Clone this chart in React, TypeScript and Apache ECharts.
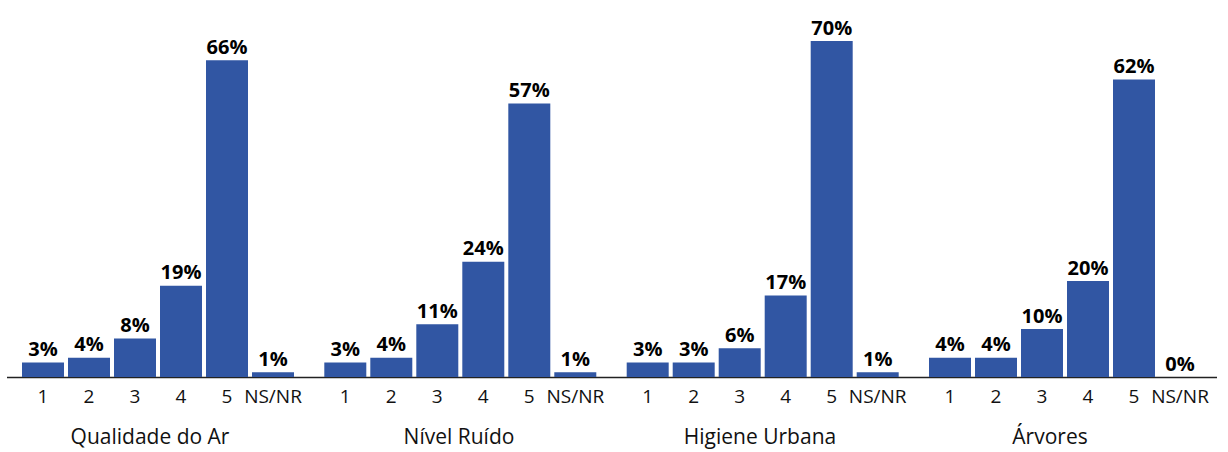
import React, { useEffect, useRef } from "react";
import * as echarts from "echarts";

const groups = ["Qualidade do Ar", "Nível Ruído", "Higiene Urbana", "Árvores"];
const categories = ["1", "2", "3", "4", "5", "NS/NR"];
const qualidadeAr = [3, 4, 8, 19, 66, 1];
const nivelRuido = [3, 4, 11, 24, 57, 1];
const higieneUrbana = [3, 3, 6, 17, 70, 1];
const arvores = [4, 4, 10, 20, 62, 0];
const seriesValues = [qualidadeAr, nivelRuido, higieneUrbana, arvores];
const groupLabelX = [150, 459, 760, 1050];

const FONT = "'Open Sans', 'Noto Sans', sans-serif";
const COLOR = "#3156a3";

export default function App() {
  const ref = useRef<HTMLDivElement>(null);
  useEffect(() => {
    const chart = echarts.init(ref.current!, null, { renderer: "svg" });
    const lefts = [20, 322.3, 624.7, 927];
    const grids = lefts.map((l) => ({ left: l, width: 276, top: 41, height: 336 }));
    const xAxes = lefts.map((_, i) => ({
      type: "category",
      gridIndex: i,
      data: categories,
      axisLine: { show: false },
      axisTick: { show: false },
      axisLabel: { color: "#111", fontFamily: FONT, fontSize: 19, margin: 9, interval: 0 },
    }));
    const yAxes = lefts.map((_, i) => ({
      type: "value",
      gridIndex: i,
      min: 0,
      max: 70,
      show: false,
      splitLine: { show: false },
    }));
    const series = seriesValues.map((vals, i) => ({
      type: "bar",
      xAxisIndex: i,
      yAxisIndex: i,
      data: vals,
      barCategoryGap: "8.7%",
      itemStyle: { color: COLOR },
      label: {
        show: true,
        position: "top",
        formatter: "{c}%",
        color: "#000",
        fontWeight: "bold",
        fontFamily: FONT,
        fontSize: 20,
        distance: 4,
      },
    }));
    const graphic: any[] = [
      {
        type: "line",
        shape: { x1: 7, y1: 377.5, x2: 1217, y2: 377.5 },
        style: { stroke: "#222", lineWidth: 1.5 },
      },
      ...groups.map((g, i) => ({
        type: "text",
        x: groupLabelX[i],
        y: 436,
        style: {
          text: g,
          fill: "#111",
          font: `21px ${FONT}`,
          textAlign: "center",
          textVerticalAlign: "middle",
        },
      })),
    ];
    chart.setOption({
      animation: false,
      grid: grids,
      xAxis: xAxes,
      yAxis: yAxes,
      series,
      graphic,
    });
    return () => chart.dispose();
  }, []);
  return <div ref={ref} style={{ width: 1228, height: 452, position: "absolute", left: 0, top: 0 }} />;
}
